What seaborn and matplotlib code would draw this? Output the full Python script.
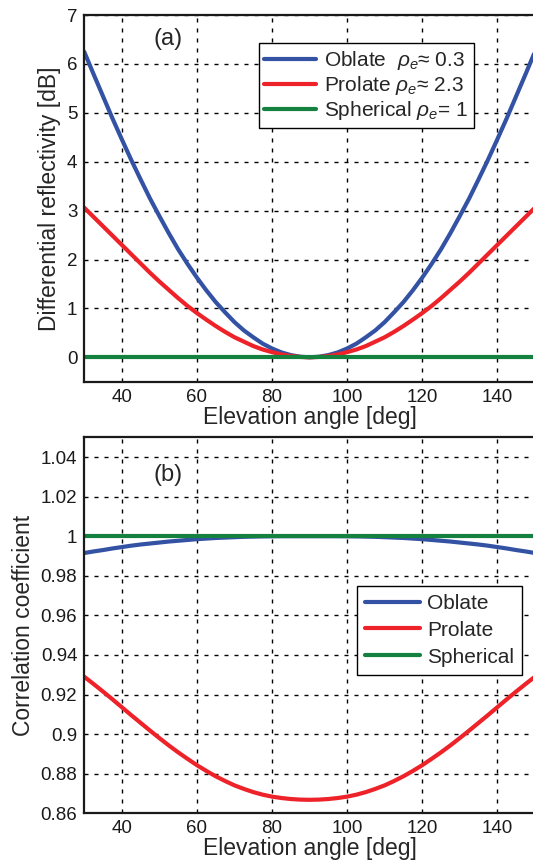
import numpy as np
import pandas as pd
import matplotlib
matplotlib.use("Agg")
import matplotlib.pyplot as plt
import seaborn as sns

# Elevation angles [deg], 2.5 degree steps
angle = [30, 32.5, 35, 37.5, 40, 42.5, 45, 47.5, 50, 52.5, 55, 57.5, 60,
         62.5, 65, 67.5, 70, 72.5, 75, 77.5, 80, 82.5, 85, 87.5, 90,
         92.5, 95, 97.5, 100, 102.5, 105, 107.5, 110, 112.5, 115, 117.5, 120,
         122.5, 125, 127.5, 130, 132.5, 135, 137.5, 140, 142.5, 145, 147.5, 150]

# Differential reflectivity [dB]
zdr_oblate = [6.25, 5.79, 5.34, 4.89, 4.46, 4.04, 3.64, 3.25, 2.89, 2.54, 2.21, 1.91, 1.63,
              1.37, 1.13, 0.92, 0.72, 0.55, 0.41, 0.28, 0.18, 0.10, 0.045, 0.011, 0.0,
              0.011, 0.045, 0.10, 0.18, 0.28, 0.41, 0.55, 0.72, 0.92, 1.13, 1.37, 1.63,
              1.91, 2.21, 2.54, 2.89, 3.25, 3.64, 4.04, 4.46, 4.89, 5.34, 5.79, 6.25]
zdr_prolate = [3.06, 2.87, 2.68, 2.49, 2.30, 2.11, 1.92, 1.73, 1.55, 1.38, 1.21, 1.05, 0.905,
               0.77, 0.64, 0.52, 0.41, 0.32, 0.23, 0.16, 0.105, 0.058, 0.026, 0.007, 0.0,
               0.007, 0.026, 0.058, 0.105, 0.16, 0.23, 0.32, 0.41, 0.52, 0.64, 0.77, 0.905,
               1.05, 1.21, 1.38, 1.55, 1.73, 1.92, 2.11, 2.30, 2.49, 2.68, 2.87, 3.06]
zdr_spherical = [0.0] * 49

# Correlation coefficient
rho_oblate = [0.9915, 0.9923, 0.9930, 0.9938, 0.9945, 0.9952, 0.9958, 0.9963, 0.9968, 0.9973, 0.9977,
              0.9981, 0.9985, 0.9988, 0.9991, 0.9993, 0.9995, 0.9997, 0.9998, 0.9999, 0.99995,
              1.0, 1.0, 1.0, 1.0, 1.0, 1.0, 1.0, 0.99995,
              0.9999, 0.9998, 0.9997, 0.9995, 0.9993, 0.9991, 0.9988, 0.9985, 0.9981, 0.9977,
              0.9973, 0.9968, 0.9963, 0.9958, 0.9952, 0.9945, 0.9938, 0.9930, 0.9923, 0.9915]
rho_prolate = [0.9290, 0.9253, 0.9215, 0.9176, 0.9136, 0.9096, 0.9057, 0.9018, 0.8980, 0.8943,
               0.8908, 0.8875, 0.8843, 0.8814, 0.8787, 0.8763, 0.8741, 0.8723, 0.8707, 0.8694,
               0.8684, 0.8677, 0.8672, 0.8669, 0.8668, 0.8669, 0.8672, 0.8677, 0.8684, 0.8694,
               0.8707, 0.8723, 0.8741, 0.8763, 0.8787, 0.8814, 0.8843, 0.8875, 0.8908, 0.8943,
               0.8980, 0.9018, 0.9057, 0.9096, 0.9136, 0.9176, 0.9215, 0.9253, 0.9290]
rho_spherical = [1.0] * 49

zdr_labels = [r"Oblate  $\rho_e$" + "\u2248 0.3",
              r"Prolate $\rho_e$" + "\u2248 2.3",
              r"Spherical $\rho_e$" + "= 1"]
rho_labels = ["Oblate", "Prolate", "Spherical"]
colors = ["#3352a4", "#ee2229", "#14813f"]

sns.set_style("white")
plt.rcParams["font.family"] = ["Liberation Sans", "DejaVu Sans"]
plt.rcParams["mathtext.fontset"] = "custom"
plt.rcParams["mathtext.it"] = "Liberation Sans:italic"
plt.rcParams["mathtext.rm"] = "Liberation Sans"

fig = plt.figure(figsize=(5.33, 8.66), dpi=100)
ax1 = fig.add_axes([0.158, 0.5592, 0.8456, 0.4234])
ax2 = fig.add_axes([0.158, 0.0609, 0.8456, 0.4342])

grid_kw = dict(color="black", linestyle=(0, (2.9, 4.3)), linewidth=1.0)


def draw(ax, series, labels):
    for vals, lab, col in zip(series, labels, colors):
        df = pd.DataFrame({"angle": angle, "value": vals})
        sns.lineplot(data=df, x="angle", y="value", ax=ax, color=col,
                     linewidth=3.0, label=lab)
    ax.set_xlim(30, 150)
    ax.set_xticks([40, 60, 80, 100, 120, 140])
    ax.grid(True, **grid_kw)
    ax.set_axisbelow(True)
    for s in ax.spines.values():
        s.set_linewidth(1.6)
        s.set_color("#1a1a1a")
    ax.tick_params(direction="in", length=4, width=1.2, labelsize=13.5,
                   colors="#1a1a1a", pad=5)
    ax.set_xlabel("Elevation angle [deg]", fontsize=16.5, labelpad=0)


draw(ax1, [zdr_oblate, zdr_prolate, zdr_spherical], zdr_labels)
ax1.set_ylim(-0.5, 7)
ax1.set_yticks(range(0, 8))
ax1.set_ylabel("Differential reflectivity [dB]", fontsize=16.5, labelpad=4)
ax1.text(52.3, 6.51, "(a)", fontsize=17, ha="center", va="center")
leg1 = ax1.legend(loc="upper right", bbox_to_anchor=(0.864, 0.9228),
                  borderaxespad=0, fontsize=15, handlelength=2.5,
                  labelspacing=0.1, handletextpad=0.35, borderpad=0.28,
                  fancybox=False, framealpha=1, edgecolor="black")
leg1.get_frame().set_linewidth(1.0)

draw(ax2, [rho_oblate, rho_prolate, rho_spherical], rho_labels)
ax2.set_ylim(0.86, 1.05)
ax2.set_yticks([0.86, 0.88, 0.9, 0.92, 0.94, 0.96, 0.98, 1.0, 1.02, 1.04])
ax2.set_yticklabels(["0.86", "0.88", "0.9", "0.92", "0.94", "0.96", "0.98",
                     "1", "1.02", "1.04"])
ax2.set_ylabel("Correlation coefficient", fontsize=16.5, labelpad=4)
ax2.text(52.3, 1.0307, "(b)", fontsize=17, ha="center", va="center")
leg2 = ax2.legend(loc="upper right", bbox_to_anchor=(0.972, 0.6045),
                  borderaxespad=0, fontsize=15, handlelength=2.65,
                  labelspacing=0.38, handletextpad=0.35, borderpad=0.38,
                  fancybox=False, framealpha=1, edgecolor="black")
leg2.get_frame().set_linewidth(1.0)

fig.savefig("out.png", dpi=100)
